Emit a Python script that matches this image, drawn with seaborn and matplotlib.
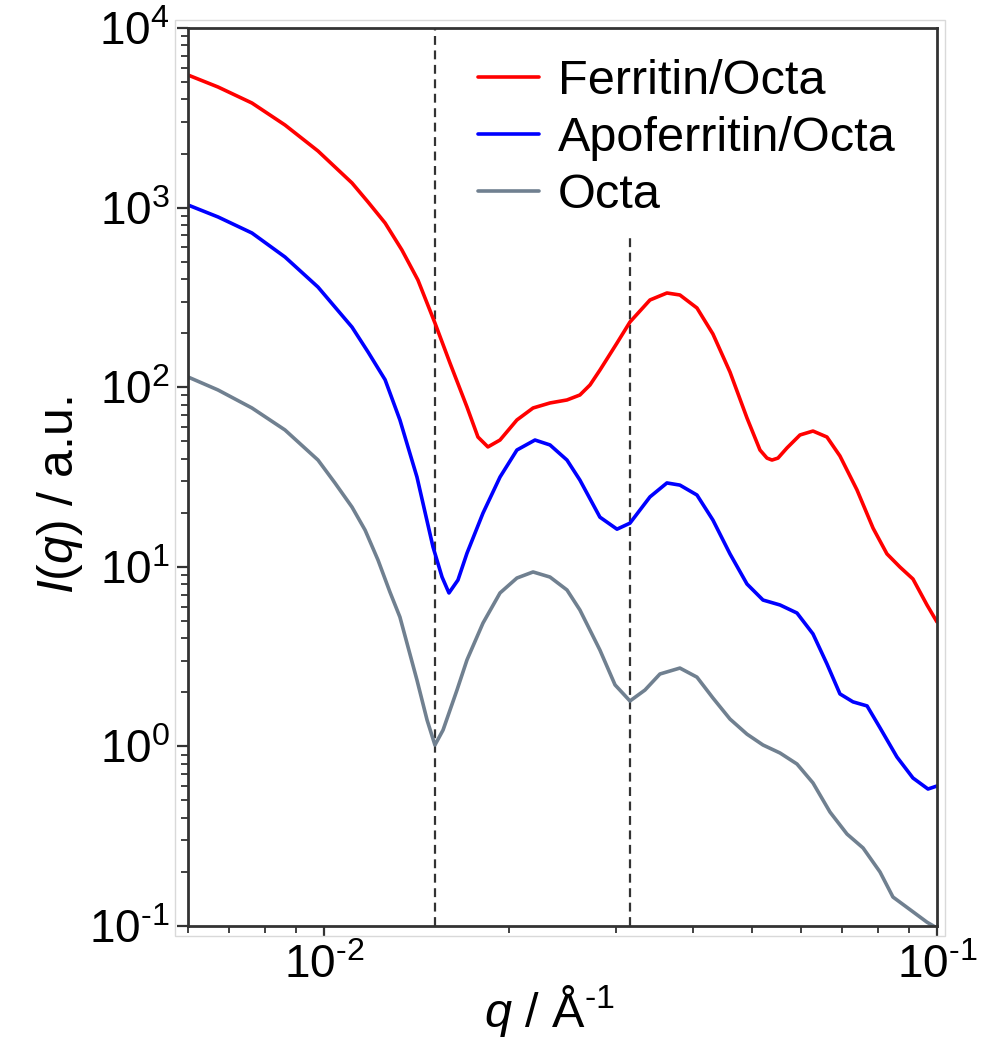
import numpy as np
import pandas as pd
import matplotlib
matplotlib.use("Agg")
import matplotlib.pyplot as plt
import matplotlib.ticker as mticker
from matplotlib.patches import Rectangle
import seaborn as sns

# ---------------- data ----------------
q_ferritin = [0.006, 0.006716, 0.007629, 0.008636, 0.009777, 0.01111, 0.01180, 0.01258, 0.01340,
              0.01423, 0.01517, 0.01605, 0.01711, 0.01783, 0.01851, 0.01937, 0.02064, 0.02193,
              0.02337, 0.02491, 0.02615, 0.02716, 0.02820, 0.03006, 0.03156, 0.03402, 0.03626,
              0.03807, 0.04059, 0.04310, 0.04595, 0.04898, 0.05143, 0.05280, 0.05380, 0.05503,
              0.05692, 0.05977, 0.06276, 0.06614, 0.06945, 0.07404, 0.07866, 0.08286, 0.08700,
              0.09137, 0.09631, 0.1]
I_ferritin = [5473, 4693, 3822, 2884, 2066, 1371, 1074, 820.8, 580.6, 395.3, 227.8, 136.4, 77.6,
              52.8, 46.5, 50.8, 65.7, 76.6, 81.7, 84.9, 90.5, 102.9, 124.7, 176.2, 230.7, 305.9,
              334.6, 326.2, 276.1, 197.8, 121.5, 67.4, 44.7, 40.3, 39.3, 40.3, 45.9, 54.2, 57.0,
              52.8, 41.4, 26.8, 16.4, 11.8, 9.97, 8.55, 6.13, 4.93]

q_apo = [0.006, 0.006716, 0.007629, 0.008636, 0.009777, 0.01111, 0.01180, 0.01258, 0.01330, 0.01418,
         0.01506, 0.01558, 0.01599, 0.01654, 0.01711, 0.01817, 0.01937, 0.02064, 0.02209, 0.02337,
         0.02491, 0.02615, 0.02819, 0.03006, 0.03156, 0.03402, 0.03626, 0.03807, 0.04059, 0.04310,
         0.04595, 0.04898, 0.05202, 0.05545, 0.05910, 0.06276, 0.06614, 0.06945, 0.07294, 0.07690,
         0.08072, 0.08603, 0.09136, 0.09668, 0.1]
I_apo = [1034, 887, 722, 531, 361, 216, 157, 110, 65.7, 31.6, 12.9, 8.77, 7.15, 8.44, 11.9, 19.9,
         31.6, 44.7, 50.8, 47.7, 39.3, 30.4, 18.9, 16.2, 17.5, 24.5, 29.3, 28.5, 25.1, 18.2, 11.8,
         8.02, 6.53, 6.13, 5.53, 4.23, 2.88, 1.96, 1.77, 1.68, 1.27, 0.873, 0.667, 0.579, 0.602]

q_octa = [0.006, 0.006716, 0.007629, 0.008636, 0.009777, 0.01042, 0.01111, 0.01167, 0.01225, 0.01281,
          0.01330, 0.01418, 0.01473, 0.01517, 0.01564, 0.01648, 0.01711, 0.01817, 0.01937, 0.02064,
          0.02193, 0.02337, 0.02491, 0.02615, 0.02819, 0.02984, 0.03156, 0.03339, 0.03532, 0.03807,
          0.04059, 0.04310, 0.04595, 0.04898, 0.05202, 0.05545, 0.05910, 0.06276, 0.06690, 0.07132,
          0.07575, 0.08072, 0.08475, 0.09136, 0.09631, 0.1]
I_octa = [114.0, 96.5, 76.6, 57.8, 39.3, 29.3, 21.5, 16.0, 10.9, 7.24, 5.25, 2.34, 1.40, 1.018,
          1.234, 2.06, 3.03, 4.86, 7.15, 8.66, 9.36, 8.77, 7.43, 5.75, 3.44, 2.20, 1.79, 2.06, 2.53,
          2.73, 2.43, 1.86, 1.42, 1.17, 1.018, 0.919, 0.798, 0.626, 0.431, 0.325, 0.272, 0.200,
          0.145, 0.120, 0.105, 0.0974]

series_names = ["Ferritin/Octa", "Apoferritin/Octa", "Octa"]
series_colors = ["#ff0000", "#0000ff", "#708090"]

# dashed guide lines: positions and their upper limits
guide_q = [0.01517, 0.0316]
guide_top = [1e4, 690]

xlim = (0.006, 0.1)
ylim = (0.1, 1e4)

HYPHEN = "\u2010"

# ---------------- figure ----------------
sns.set_style("white")
plt.rcParams["font.family"] = ["Liberation Sans", "DejaVu Sans"]
plt.rcParams["mathtext.fontset"] = "custom"
plt.rcParams["mathtext.rm"] = "Liberation Sans"
plt.rcParams["mathtext.it"] = "Liberation Sans:italic"
plt.rcParams["mathtext.default"] = "regular"
plt.rcParams["text.color"] = "black"
plt.rcParams["axes.labelcolor"] = "black"

frames = []
for name, q, I in zip(series_names, [q_ferritin, q_apo, q_octa], [I_ferritin, I_apo, I_octa]):
    frames.append(pd.DataFrame({"q": q, "I": I, "series": name}))
df = pd.concat(frames, ignore_index=True)

fig = plt.figure(figsize=(9.9, 10.46), dpi=100)
ax = fig.add_axes([188 / 990, 1 - 926 / 1046, (937 - 188) / 990, (926 - 28) / 1046])

# faint outer frame around the plot area
fig.patches.append(Rectangle((175 / 990, 1 - 936 / 1046), (945 - 175) / 990, (936 - 20) / 1046,
                             transform=fig.transFigure, fill=False, edgecolor="#d9d9d9",
                             linewidth=1.0, zorder=0))

sns.lineplot(data=df, x="q", y="I", hue="series", hue_order=series_names,
             palette=dict(zip(series_names, series_colors)), estimator=None, sort=False,
             linewidth=2.6, ax=ax)
for line in ax.get_lines():
    line.set_solid_joinstyle("round")
    line.set_solid_capstyle("round")

ax.set_xscale("log")
ax.set_yscale("log")
ax.set_xlim(*xlim)
ax.set_ylim(*ylim)

for gq, gt in zip(guide_q, guide_top):
    ax.vlines(gq, ylim[0], gt, colors="#333333", linestyles=(0, (4, 2.5)), linewidth=1.6, zorder=1)

spine_color = "#333333"
for s in ax.spines.values():
    s.set_visible(True)
    s.set_color(spine_color)
    s.set_linewidth(2.0)


def sci_fmt(v, _pos):
    e = int(round(np.log10(v)))
    if e < 0:
        return "$10^{" + HYPHEN + str(-e) + "}$"
    return "$10^{" + str(e) + "}$"


ax.xaxis.set_major_locator(mticker.LogLocator(base=10, numticks=10))
ax.xaxis.set_minor_locator(mticker.LogLocator(base=10, subs=np.arange(2, 10), numticks=20))
ax.yaxis.set_major_locator(mticker.LogLocator(base=10, numticks=10))
ax.yaxis.set_minor_locator(mticker.LogLocator(base=10, subs=np.arange(2, 10), numticks=20))
ax.xaxis.set_major_formatter(mticker.FuncFormatter(sci_fmt))
ax.yaxis.set_major_formatter(mticker.FuncFormatter(sci_fmt))
ax.xaxis.set_minor_formatter(mticker.NullFormatter())
ax.yaxis.set_minor_formatter(mticker.NullFormatter())

ax.tick_params(axis="both", which="major", direction="out", length=8, width=1.6,
               color=spine_color, labelcolor="black", labelsize=33, pad=5, bottom=True, left=True)
ax.tick_params(axis="both", which="minor", direction="out", length=5, width=1.3,
               color=spine_color, bottom=True, left=True)

ax.set_xlabel("$\\mathit{q}$ / Å$^{" + HYPHEN + "1}$", fontsize=35)
ax.set_ylabel("$\\mathit{I(q)}$ / a.u.", fontsize=36)
ax.xaxis.set_label_coords(0.483, -0.063, transform=ax.transAxes)
ax.xaxis.label.set_va("top")
ax.yaxis.set_label_coords(-0.137, 0.48, transform=ax.transAxes)

leg = ax.legend(loc="upper right", frameon=False, fontsize=35, handlelength=1.25,
                handletextpad=0.4, labelspacing=0.25, borderaxespad=0.0, borderpad=0.0,
                bbox_to_anchor=(0.945, 0.966))
for line in leg.get_lines():
    line.set_linewidth(2.6)

fig.savefig("out.png", dpi=100, facecolor="white")
